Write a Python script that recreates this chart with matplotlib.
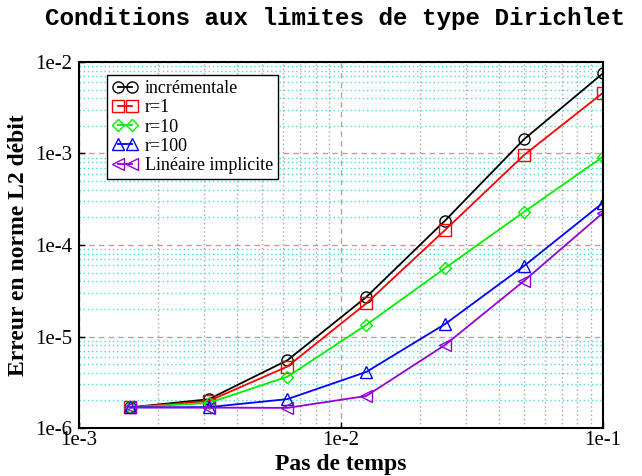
import matplotlib
matplotlib.use("Agg")
import matplotlib.pyplot as plt
from matplotlib.ticker import LogLocator, FixedLocator, NullFormatter

# time steps (dt = 0.1 / 2^k)
dt = [0.0015625, 0.003125, 0.00625, 0.0125, 0.025, 0.05, 0.1]

err_incr = [1.68e-6, 2.06e-6, 5.5e-6, 2.7e-5, 1.85e-4, 1.43e-3, 7.5e-3]
err_r1 = [1.68e-6, 1.97e-6, 4.7e-6, 2.3e-5, 1.46e-4, 9.6e-4, 4.6e-3]
err_r10 = [1.68e-6, 1.88e-6, 3.64e-6, 1.34e-5, 5.6e-5, 2.3e-4, 9.2e-4]
err_r100 = [1.68e-6, 1.69e-6, 2.07e-6, 4.1e-6, 1.37e-5, 5.9e-5, 2.88e-4]
err_lin = [1.68e-6, 1.67e-6, 1.66e-6, 2.24e-6, 8.1e-6, 4.05e-5, 2.24e-4]

series = [
    ("incrémentale", err_incr, "black", "o"),
    ("r=1", err_r1, "#ff0000", "s"),
    ("r=10", err_r10, "#00ee00", "D"),
    ("r=100", err_r100, "#0000ff", "^"),
    ("Linéaire implicite", err_lin, "#9400d3", "<"),
]

SERIF = ["Liberation Serif", "DejaVu Serif"]

fig = plt.figure(figsize=(6.42, 4.76), dpi=100)
ax = fig.add_axes([0.123, 0.1008, 0.816, 0.769])

for label, vals, color, marker in series:
    ms = 6.5 if marker == "D" else 8
    ax.plot(dt, vals, color=color, lw=1.3, marker=marker, ms=ms,
            mfc="none", mec=color, mew=1.0, label=label, zorder=3)

ax.set_xscale("log")
ax.set_yscale("log")
ax.set_xlim(1e-3, 1e-1)
ax.set_ylim(1e-6, 1e-2)

ax.xaxis.set_major_locator(FixedLocator([1e-3, 1e-2, 1e-1]))
ax.yaxis.set_major_locator(FixedLocator([1e-6, 1e-5, 1e-4, 1e-3, 1e-2]))
ax.xaxis.set_minor_locator(LogLocator(base=10, subs=range(2, 10)))
ax.yaxis.set_minor_locator(LogLocator(base=10, subs=range(2, 10)))
ax.xaxis.set_minor_formatter(NullFormatter())
ax.yaxis.set_minor_formatter(NullFormatter())
ax.set_xticklabels(["1e-3", "1e-2", "1e-1"], family=SERIF, fontsize=15)
ax.set_yticklabels(["1e-6", "1e-5", "1e-4", "1e-3", "1e-2"], family=SERIF, fontsize=15)
ax.tick_params(which="major", direction="in", length=4, width=1, pad=2)
ax.tick_params(which="minor", direction="in", length=0)
ax.tick_params(axis="y", which="major", pad=5)

ax.grid(True, which="major", color="#c89a9a", ls=(0, (4, 3)), lw=1.0, zorder=1)
ax.xaxis.grid(True, which="minor", color="#a8a8a8", ls=(0, (1, 2)), lw=1.0, zorder=1)
ax.yaxis.grid(True, which="minor", color="#40e0e0", ls=(0, (1, 2)), lw=1.0, zorder=1)

for sp in ax.spines.values():
    sp.set_linewidth(1.5)
    sp.set_zorder(4)

ax.set_xlabel("Pas de temps", family=SERIF, fontsize=17, fontweight="bold", labelpad=3)
ax.set_ylabel("Erreur en norme L2 débit", family=SERIF, fontsize=17, fontweight="bold", labelpad=4)

leg = ax.legend(loc="upper left", bbox_to_anchor=(0.053, 0.965), numpoints=2,
                handlelength=1.4, handletextpad=0.4, borderpad=0.3, labelspacing=0.12,
                borderaxespad=0, fancybox=False, framealpha=1, edgecolor="black",
                prop={"family": SERIF, "size": 13})
leg.get_frame().set_linewidth(1.0)
leg.set_zorder(5)

fig.text(0.522, 0.962, "Conditions aux limites de type Dirichlet",
         family=["Liberation Mono", "DejaVu Sans Mono"], fontweight="bold",
         fontsize=17.5, ha="center", va="center")

fig.savefig("out.png", dpi=100)
